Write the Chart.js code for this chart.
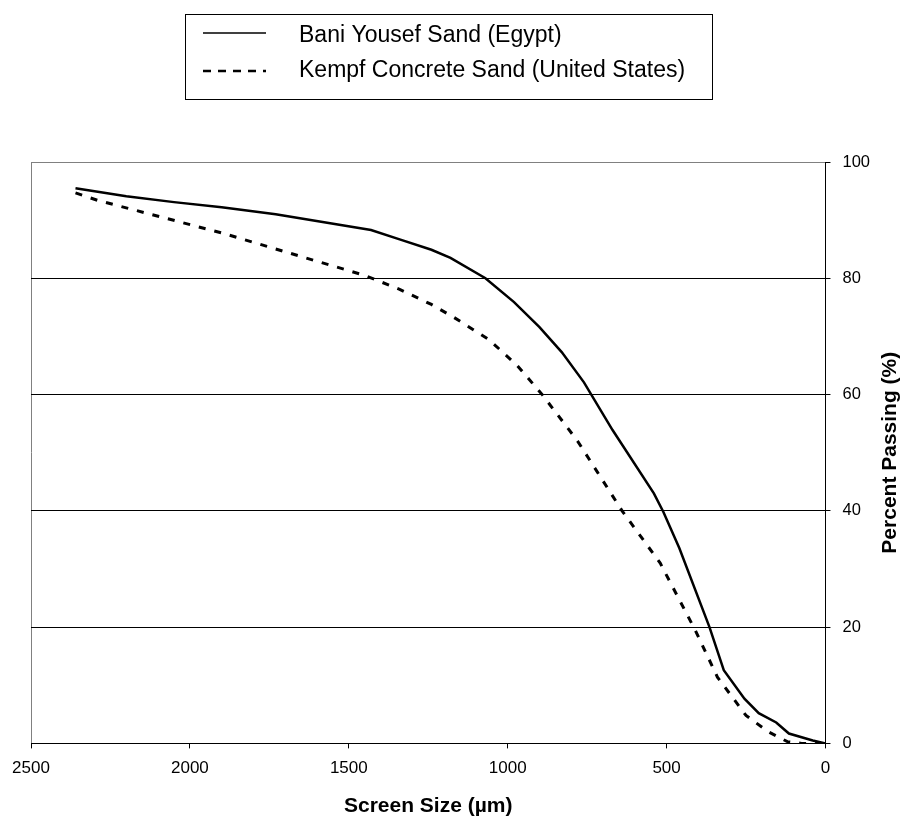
<!DOCTYPE html>
<html>
<head>
<meta charset="utf-8">
<script src="https://cdn.jsdelivr.net/npm/chart.js@4/dist/chart.umd.min.js"></script>
<style>
  html, body { margin: 0; padding: 0; background: #fff; }
  #wrap { width: 904px; height: 819px; }
</style>
</head>
<body>
<div id="wrap"><canvas id="gradChart" width="904" height="819"></canvas></div>
<script>
// sieve sizes (µm) and percent passing
const baniSize = [2360, 2200, 2050, 1900, 1730, 1430, 1340, 1240, 1180, 1070, 980, 900, 830, 760, 670, 540, 510, 460, 365, 320, 255, 210, 155, 115, 40, 0];
const baniPass = [95.5, 94.1, 93.1, 92.2, 91.0, 88.3, 86.7, 84.9, 83.5, 80.0, 75.9, 71.6, 67.3, 62.1, 53.9, 43.0, 39.8, 33.6, 20.0, 12.6, 7.7, 5.2, 3.6, 1.7, 0.5, 0];
const kempfSize = [2360, 2290, 1900, 1450, 1340, 1240, 1170, 1060, 970, 890, 780, 640, 520, 410, 340, 250, 180, 120, 75, 0];
const kempfPass = [94.7, 93.4, 87.8, 80.5, 78.1, 75.5, 73.3, 69.5, 65.0, 59.9, 52.0, 40.0, 31.0, 19.5, 11.4, 4.8, 2.0, 0.3, 0, 0];
const xTicks = [0, 500, 1000, 1500, 2000, 2500];
const yTicks = [0, 20, 40, 60, 80, 100];
const yTitle = 'Percent Passing (%)';

const FONT = '"Liberation Sans", Arial, sans-serif';
const toXY = (xs, ys) => xs.map((x, i) => ({ x: x, y: ys[i] }));

// legend box + right-hand axis title drawn by hand
// (legend rows left-aligned, title reading bottom to top)
const extras = {
  id: 'extras',
  afterDraw(chart) {
    const c = chart.ctx;
    c.save();
    c.strokeStyle = '#000';
    c.lineWidth = 1;
    c.strokeRect(185.5, 14.5, 527, 85);
    c.font = '23px ' + FONT;
    c.textBaseline = 'middle';
    c.fillStyle = '#000';
    chart.data.datasets.forEach((ds, i) => {
      const y = i === 0 ? 33 : 71;
      c.beginPath();
      c.setLineDash(i === 0 ? [] : [8, 7]);
      c.lineWidth = i === 0 ? 1.5 : 2.5;
      c.moveTo(203, y);
      c.lineTo(266, y);
      c.stroke();
      c.setLineDash([]);
      c.fillText(ds.label, 299, i === 0 ? 36 : 71);
    });

    const area = chart.chartArea;
    c.translate(890, (area.top + area.bottom) / 2);
    c.rotate(-Math.PI / 2);
    c.font = 'bold 21px ' + FONT;
    c.textAlign = 'center';
    c.fillText(yTitle, 0, 0);
    c.restore();
  }
};

new Chart(document.getElementById('gradChart').getContext('2d'), {
  type: 'line',
  data: {
    datasets: [{
      label: 'Bani Yousef Sand (Egypt)',
      data: toXY(baniSize, baniPass),
      borderColor: '#000',
      borderWidth: 2.5,
      pointRadius: 0,
      tension: 0
    }, {
      label: 'Kempf Concrete Sand (United States)',
      data: toXY(kempfSize, kempfPass),
      borderColor: '#000',
      borderWidth: 3,
      borderDash: [7, 9],
      pointRadius: 0,
      tension: 0
    }]
  },
  plugins: [extras],
  options: {
    responsive: false,
    animation: false,
    layout: { padding: { top: 162, left: 31, right: 22, bottom: 0 } },
    plugins: {
      legend: { display: false },
      tooltip: { enabled: false }
    },
    scales: {
      x: {
        type: 'linear',
        reverse: true,
        min: 0,
        max: 2500,
        afterBuildTicks: s => { s.ticks = xTicks.map(v => ({ value: v })); },
        grid: {
          drawOnChartArea: true,
          color: ctx => (ctx.tick && ctx.tick.value === 2500) ? '#808080' : 'rgba(0,0,0,0)',
          tickColor: '#000',
          tickLength: 5
        },
        border: { color: '#000', width: 1 },
        ticks: {
          color: '#000',
          padding: 10,
          maxRotation: 0,
          callback: v => String(v),
          font: { family: FONT, size: 17 }
        },
        title: {
          display: true,
          text: 'Screen Size (µm)',
          color: '#000',
          padding: { top: 5, bottom: 0 },
          font: { family: FONT, size: 21, weight: 'bold' }
        }
      },
      y: {
        position: 'right',
        min: 0,
        max: 100,
        afterBuildTicks: s => { s.ticks = yTicks.map(v => ({ value: v })); },
        grid: {
          color: ctx => (ctx.tick && ctx.tick.value === 100) ? '#808080' : '#000',
          tickColor: '#000',
          tickLength: 5
        },
        border: { color: '#000', width: 1 },
        ticks: {
          color: '#000',
          padding: 12,
          font: { family: FONT, size: 16.5 }
        }
      }
    }
  }
});
</script>
</body>
</html>
